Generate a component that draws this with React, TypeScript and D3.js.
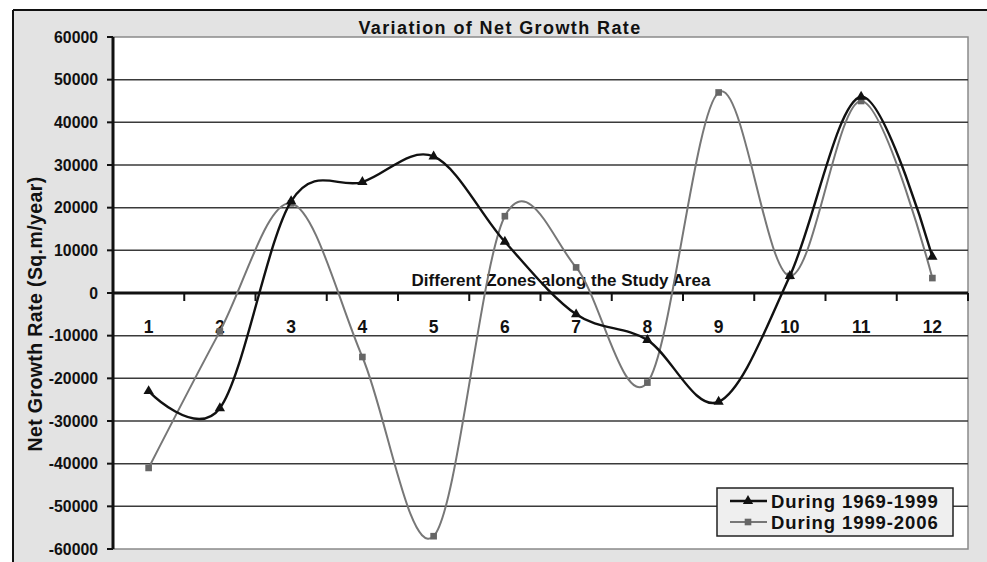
import React from "react";
import * as d3 from "d3";

// Zones along the study area
const zones = ["1", "2", "3", "4", "5", "6", "7", "8", "9", "10", "11", "12"];
// Net growth rate (Sq.m/year) per zone
const during1969to1999 = [-23000, -27000, 21500, 26000, 32000, 12000, -5000, -11000, -25500, 4000, 46000, 8500];
const during1999to2006 = [-41000, -9000, 21000, -15000, -57000, 18000, 6000, -21000, 47000, 4000, 45000, 3500];
const yTicks = [-60000, -50000, -40000, -30000, -20000, -10000, 0, 10000, 20000, 30000, 40000, 50000, 60000];
const seriesNames = ["During 1969-1999", "During 1999-2006"];

const W = 987;
const H = 562;
const plot = { left: 113, right: 968, top: 37, bottom: 549 };
const FONT = "'Liberation Sans', Arial, Helvetica, sans-serif";

export default function App() {
  const x = d3.scaleBand<string>().domain(zones).range([plot.left, plot.right]).padding(0);
  const y = d3.scaleLinear().domain([-60000, 60000]).range([plot.bottom, plot.top]);
  const cx = (i: number) => (x(zones[i]) as number) + x.bandwidth() / 2;

  const line = d3
    .line<number>()
    .x((_, i) => cx(i))
    .y((v) => y(v))
    .curve(d3.curveCatmullRom.alpha(0));

  const tri = d3.symbol().type(d3.symbolTriangle).size(46)();
  const sq = d3.symbol().type(d3.symbolSquare).size(44)();

  const boundaries = d3.range(zones.length + 1).map((i) =>
    i < zones.length ? (x(zones[i]) as number) : plot.right
  );

  const series = [
    { values: during1969to1999, color: "#111", width: 2.4, marker: tri, mcolor: "#111" },
    { values: during1999to2006, color: "#777", width: 2, marker: sq, mcolor: "#666" },
  ];

  const y0 = y(0);
  const legend = { x: 717, y: 488, w: 236, h: 48 };

  return (
    <svg
      width={W}
      height={H}
      style={{ position: "absolute", left: 0, top: 0, display: "block" }}
      fontFamily={FONT}
    >
      <rect x={0} y={0} width={W} height={H} fill="#fff" />
      {/* chart frame */}
      <rect x={13} y={10} width={W - 13} height={H - 10} fill="#e3e3e3" />
      <line x1={13} y1={10} x2={W} y2={10} stroke="#111" strokeWidth={2} />
      <line x1={13} y1={10} x2={13} y2={H} stroke="#111" strokeWidth={2} />

      {/* plot area */}
      <rect
        x={plot.left}
        y={plot.top}
        width={plot.right - plot.left}
        height={plot.bottom - plot.top}
        fill="#fff"
        stroke="#8a8a8a"
        strokeWidth={1.5}
      />

      {/* gridlines */}
      {yTicks
        .filter((t) => t !== 0 && Math.abs(t) !== 60000)
        .map((t) => (
          <line
            key={t}
            x1={plot.left}
            x2={plot.right}
            y1={y(t)}
            y2={y(t)}
            stroke="#3a3a3a"
            strokeWidth={1.5}
          />
        ))}

      {/* title */}
      <text x={500} y={34} textAnchor="middle" fontSize={18} letterSpacing={1.4} fontWeight="bold" fill="#111">
        Variation of Net Growth Rate
      </text>

      {/* y axis title */}
      <text
        transform={`translate(42, 314) rotate(-90)`}
        textAnchor="middle"
        fontSize={19.5}
        letterSpacing={0.4}
        fontWeight="bold"
        fill="#111"
      >
        Net Growth Rate (Sq.m/year)
      </text>

      {/* y tick labels and ticks */}
      {yTicks.map((t) => (
        <g key={t}>
          <line x1={107} x2={plot.left} y1={y(t)} y2={y(t)} stroke="#111" strokeWidth={2} />
          <text x={98} y={y(t) + 5.5} textAnchor="end" fontSize={15.8} fontWeight="bold" fill="#111">
            {t}
          </text>
        </g>
      ))}

      {/* x axis title */}
      <text x={561} y={286} textAnchor="middle" fontSize={17} fontWeight="bold" fill="#111">
        Different Zones along the Study Area
      </text>

      {/* axes */}
      <line x1={plot.left} x2={plot.right} y1={y0} y2={y0} stroke="#111" strokeWidth={3} />
      <line x1={plot.left} x2={plot.left} y1={plot.top} y2={plot.bottom} stroke="#111" strokeWidth={3} />
      {boundaries.map((bx, i) => (
        <line key={i} x1={bx} x2={bx} y1={y0} y2={y0 + 8} stroke="#111" strokeWidth={2} />
      ))}
      {zones.map((z, i) => (
        <text key={z} x={cx(i)} y={y0 + 40} textAnchor="middle" fontSize={17.5} fontWeight="bold" fill="#111">
          {z}
        </text>
      ))}

      {/* series */}
      {series
        .slice()
        .reverse()
        .map((s, k) => (
          <g key={k}>
            <path d={line(s.values) || ""} fill="none" stroke={s.color} strokeWidth={s.width} />
            {s.values.map((v, i) => (
              <path key={i} d={s.marker || ""} transform={`translate(${cx(i)},${y(v)})`} fill={s.mcolor} />
            ))}
          </g>
        ))}

      {/* legend */}
      <rect
        x={legend.x}
        y={legend.y}
        width={legend.w}
        height={legend.h}
        fill="#efefef"
        stroke="#222"
        strokeWidth={1.5}
      />
      {series.map((s, i) => {
        const ly = legend.y + 13 + i * 21;
        return (
          <g key={i}>
            <line x1={730} x2={767} y1={ly} y2={ly} stroke={s.color} strokeWidth={s.width} />
            <path d={s.marker || ""} transform={`translate(748,${ly})`} fill={s.mcolor} />
            <text x={771} y={ly + 7} fontSize={18.5} letterSpacing={0.9} fontWeight="bold" fill="#111">
              {seriesNames[i]}
            </text>
          </g>
        );
      })}
    </svg>
  );
}
